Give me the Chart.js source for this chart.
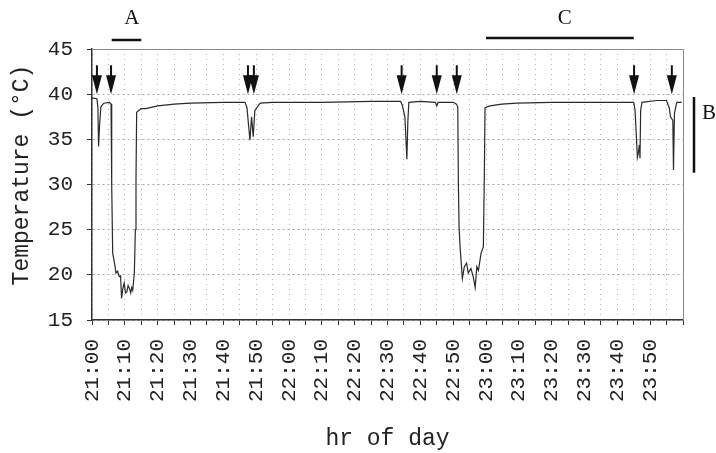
<!DOCTYPE html>
<html>
<head>
<meta charset="utf-8">
<script src="https://cdn.jsdelivr.net/npm/chart.js@4.4.1/dist/chart.umd.min.js"></script>
<style>
    html, body { margin: 0; padding: 0; background: #fff; }
    #wrap { width: 716px; height: 453px; }
</style>
</head>
<body>
<div id="wrap"><canvas id="tempChart" width="716" height="453"></canvas></div>
<script>
// time in minutes after 21:00, body temperature in °C
const minutes = [
    0, 1.5, 1.8, 2.0, 2.3, 2.7, 3.6, 5.3, 5.8, 6.0, 6.3, 7.0, 7.3, 7.8, 8.3, 8.7, 9.0, 9.4, 9.8, 10.2,
    10.6, 11.0, 11.4, 11.8, 12.1, 12.4, 12.9, 13.2, 13.4, 13.6, 14.9, 16.4, 20, 25, 30, 40,
    46.6, 47.2, 48.1, 48.6, 49.1, 49.6, 51.2, 55, 70, 85,
    94.0, 94.5, 95.3, 95.9, 96.2, 96.5, 100, 104.6, 105.0, 105.4, 110,
    111.0, 111.4, 111.6, 111.8, 112.1, 112.4, 112.8, 113.4, 114.1, 114.6, 115.4, 116.1, 116.7, 117.2,
    117.7, 118.5, 119.2, 119.5, 119.7, 121.2, 124.8, 129.4, 140, 155,
    165.0, 165.4, 165.9, 166.1, 166.4, 166.7, 166.9, 167.1, 167.5, 172,
    175.0, 175.8, 176.2, 176.9, 177.1, 177.4, 178.1, 179.6
];
const temps = [
    39.6, 39.5, 38.5, 34.2, 36.5, 38.6, 39.0, 39.1, 38.9, 30.0, 22.4, 21.0, 20.2, 20.4, 19.8, 19.9, 17.4, 18.5, 19.1, 18.0,
    18.1, 18.8, 18.5, 18.0, 18.6, 18.3, 20.2, 25.0, 30.5, 38.0, 38.4, 38.4, 38.7, 38.9, 39.0, 39.1,
    39.1, 38.5, 34.9, 37.5, 35.3, 38.2, 39.0, 39.1, 39.1, 39.2,
    39.2, 38.8, 37.5, 32.8, 37.0, 39.1, 39.2, 39.1, 38.7, 39.1, 39.1,
    38.9, 38.6, 29.7, 25.3, 23.1, 21.6, 19.6, 20.9, 21.3, 20.2, 20.7, 19.8, 18.6, 20.9,
    20.5, 22.4, 23.1, 31.3, 38.5, 38.7, 38.9, 39.0, 39.1, 39.1,
    39.1, 38.2, 34.6, 33.0, 33.5, 34.4, 32.9, 38.2, 39.1, 39.3,
    39.3, 38.5, 37.5, 37.1, 31.6, 37.9, 39.1, 39.1
];
const tickLabels = ['21:00', '21:10', '21:20', '21:30', '21:40', '21:50',
    '22:00', '22:10', '22:20', '22:30', '22:40', '22:50',
    '23:00', '23:10', '23:20', '23:30', '23:40', '23:50'];

// marked events (arrows) and bracketed periods
const arrowMinutes = [1.5, 5.8, 47.5, 49.3, 94.3, 105, 111.1, 165.1, 176.6];
const periodA = [6, 15];
const periodC = [120, 165];
const rangeB = [31.3, 39.7];

const monoFont = 'Liberation Mono, Courier New, monospace';
const serifFont = 'Liberation Serif, Times New Roman, serif';

const markers = {
    id: 'markers',
    afterDraw(chart) {
        const {ctx, chartArea, scales: {x, y}} = chart;
        ctx.save();

        // top and right frame
        ctx.strokeStyle = '#8a8a8a';
        ctx.lineWidth = 1;
        ctx.beginPath();
        ctx.moveTo(chartArea.left, chartArea.top + 0.5);
        ctx.lineTo(chartArea.right + 0.5, chartArea.top + 0.5);
        ctx.lineTo(chartArea.right + 0.5, chartArea.bottom);
        ctx.stroke();

        // arrows
        ctx.fillStyle = '#111';
        ctx.strokeStyle = '#111';
        const tip = y.getPixelForValue(40);
        const top = y.getPixelForValue(43.2);
        arrowMinutes.forEach(m => {
            const px = x.getPixelForValue(m);
            ctx.lineWidth = 2;
            ctx.beginPath();
            ctx.moveTo(px, top);
            ctx.lineTo(px, tip - 15);
            ctx.stroke();
            ctx.beginPath();
            ctx.moveTo(px - 5, tip - 19);
            ctx.lineTo(px + 5, tip - 19);
            ctx.lineTo(px, tip);
            ctx.closePath();
            ctx.fill();
        });

        // A and C bars
        ctx.lineWidth = 2.5;
        ctx.beginPath();
        ctx.moveTo(x.getPixelForValue(periodA[0]), chartArea.top - 9);
        ctx.lineTo(x.getPixelForValue(periodA[1]), chartArea.top - 9);
        ctx.moveTo(x.getPixelForValue(periodC[0]), chartArea.top - 11);
        ctx.lineTo(x.getPixelForValue(periodC[1]), chartArea.top - 11);
        // B bar
        ctx.moveTo(chartArea.right + 11, y.getPixelForValue(rangeB[1]));
        ctx.lineTo(chartArea.right + 11, y.getPixelForValue(rangeB[0]));
        ctx.stroke();

        ctx.font = '21px ' + serifFont;
        ctx.textAlign = 'center';
        ctx.textBaseline = 'middle';
        ctx.fillText('A', x.getPixelForValue(12.1), 18);
        ctx.fillText('C', x.getPixelForValue(144), 18);
        ctx.fillText('B', chartArea.right + 26, y.getPixelForValue(37.9));

        // y axis title
        ctx.font = '23px ' + monoFont;
        ctx.fillStyle = '#222';
        ctx.translate(22, 175);
        ctx.rotate(-Math.PI / 2);
        ctx.fillText('Temperature (°C)', 0, 0);
        ctx.restore();
    }
};

const ctx = document.getElementById('tempChart').getContext('2d');
const tempChart = new Chart(ctx, {
    type: 'line',
    data: {
        datasets: [{
            data: minutes.map((m, i) => ({x: m, y: temps[i]})),
            borderColor: '#2a2a2a',
            borderWidth: 1.2,
            pointRadius: 0,
            tension: 0,
            fill: false
        }]
    },
    options: {
        responsive: false,
        animation: false,
        events: [],
        layout: {
            padding: {top: 49, right: 33, left: 0, bottom: 0}
        },
        plugins: {
            legend: {display: false},
            tooltip: {enabled: false}
        },
        scales: {
            x: {
                type: 'linear',
                min: 0,
                max: 180,
                afterFit: s => {
                    s.height = 133;
                    s.paddingLeft = 0;
                    s.paddingRight = 0;
                },
                ticks: {
                    stepSize: 5,
                    autoSkip: false,
                    minRotation: 90,
                    maxRotation: 90,
                    padding: 14,
                    color: '#222',
                    font: {family: monoFont, size: 21},
                    callback: v => (v % 10 === 0 && v < 180) ? tickLabels[v / 10] : ''
                },
                grid: {
                    color: '#b4b4b4',
                    lineWidth: 1,
                    tickLength: 5,
                    tickColor: '#333'
                },
                border: {color: '#333', width: 1.5, dash: [1, 4]},
                title: {
                    display: true,
                    text: 'hr of day',
                    color: '#222',
                    font: {family: monoFont, size: 23},
                    padding: {top: 0, bottom: 0}
                }
            },
            y: {
                min: 15,
                max: 45,
                afterFit: s => {
                    s.width = 92;
                    s.paddingTop = 0;
                    s.paddingBottom = 0;
                },
                ticks: {
                    stepSize: 5,
                    padding: 14,
                    color: '#222',
                    font: {family: monoFont, size: 21}
                },
                grid: {
                    color: '#a8a8a8',
                    lineWidth: 1,
                    tickLength: 5,
                    tickColor: '#333'
                },
                border: {color: '#333', width: 1.5, dash: [2, 3]}
            }
        }
    },
    plugins: [markers]
});
</script>
</body>
</html>
